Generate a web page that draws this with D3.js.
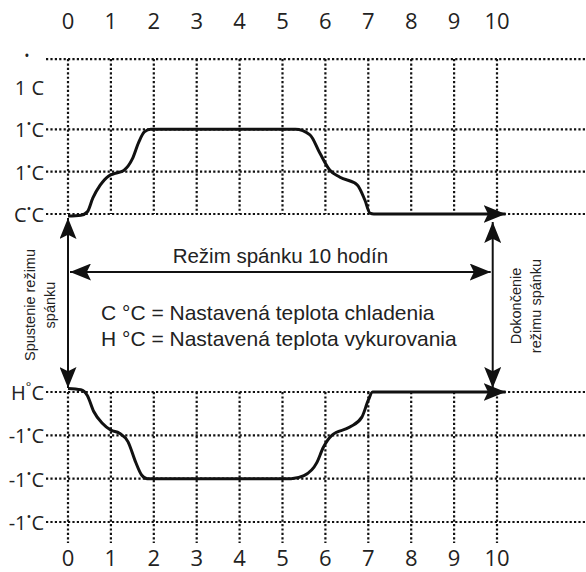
<!DOCTYPE html>
<html>
<head>
<meta charset="utf-8">
<script src="https://cdn.jsdelivr.net/npm/d3@7"></script>
<style>
  body { margin: 0; background: #fff; }
  svg { display: block; }
</style>
</head>
<body>
<div class="stage"></div>
<script>
// hours along the x axis
var hours = [0, 1, 2, 3, 4, 5, 6, 7, 8, 9, 10];

// left labels, upper block (cooling) and lower block (heating)
var coolLabels = ["C•C", "1•C", "1•C", "1 C", "•"];
var coolLevels = [0, 1, 2, 3, 3.66];
var coolGrid = [0, 1, 2, 3.66];
var heatLabels = ["H°C", "-1•C", "-1•C", "-1•C"];
var heatLevels = [0, -1, -2, -3];

// temperature curves (hour, level)
var coolCurve = [[0, -0.05], [0.3, -0.03], [0.45, 0.05], [0.58, 0.38], [0.75, 0.68], [0.95, 0.9],
  [1.1, 0.96], [1.3, 1.03], [1.5, 1.3], [1.65, 1.7], [1.78, 1.94], [1.93, 2], [2.2, 2], [5.3, 2],
  [5.64, 1.87], [5.87, 1.44], [6.1, 1.04], [6.34, 0.87], [6.74, 0.69], [6.92, 0.33], [7.04, 0.02],
  [7.13, 0], [9.9, 0]];
var heatCurve = [[0, 0.08], [0.3, 0.05], [0.45, -0.08], [0.6, -0.45], [0.8, -0.72], [1.0, -0.88],
  [1.2, -0.95], [1.4, -1.15], [1.57, -1.6], [1.72, -1.92], [1.85, -2], [2.2, -2], [5.2, -2],
  [5.5, -1.93], [5.8, -1.63], [5.95, -1.28], [6.15, -1.0], [6.57, -0.81], [6.85, -0.58],
  [7.0, -0.19], [7.1, 0], [9.9, 0]];
var arrowEnd = 10.2;

var sleepText = "Režim spánku 10 hodín";
var legendLines = ["C °C = Nastavená teplota chladenia", "H °C = Nastavená teplota vykurovania"];
var startText = ["Spustenie režimu", "spánku"];
var endText = ["Dokončenie", "režimu spánku"];

var width = 586, height = 572;
var svg = d3.select(".stage").append("svg")
  .attr("width", width)
  .attr("height", height);

var x = d3.scaleLinear().domain([0, 10]).range([68, 497]);
var yCool = d3.scaleLinear().domain([0, 3]).range([214, 87]);
var yHeat = d3.scaleLinear().domain([0, -3]).range([392, 522]);

var tickFont = "'Open Sans', sans-serif";
var textFont = "'Liberation Sans', Arial, sans-serif";

// arrow heads
var defs = svg.append("defs");
function marker(id, w, h) {
  defs.append("marker")
    .attr("id", id)
    .attr("viewBox", "0 0 " + w + " " + h)
    .attr("refX", w).attr("refY", h / 2)
    .attr("markerWidth", w).attr("markerHeight", h)
    .attr("markerUnits", "userSpaceOnUse")
    .attr("orient", "auto-start-reverse")
    .append("path")
    .attr("d", "M0,0L" + w + "," + (h / 2) + "L0," + h + "L" + (w * 0.2) + "," + (h / 2) + "Z")
    .attr("fill", "#111");
}
marker("head", 21, 17);
marker("headBig", 22, 18);

// grid
function dotted(sel) {
  return sel.attr("stroke", "#111").attr("stroke-width", 2.2).attr("stroke-dasharray", "2.2,2.2");
}
var grid = svg.append("g");
grid.selectAll(".hc").data(coolGrid).enter().append("line")
  .attr("x1", 46).attr("x2", width)
  .attr("y1", function(d) { return yCool(d); }).attr("y2", function(d) { return yCool(d); })
  .call(dotted);
grid.selectAll(".hh").data(heatLevels).enter().append("line")
  .attr("x1", 46).attr("x2", width)
  .attr("y1", function(d) { return yHeat(d); }).attr("y2", function(d) { return yHeat(d); })
  .call(dotted);
grid.selectAll(".vc").data(hours).enter().append("line")
  .attr("x1", function(d) { return x(d); }).attr("x2", function(d) { return x(d); })
  .attr("y1", yCool(3.66)).attr("y2", yCool(0))
  .call(dotted);
grid.selectAll(".vh").data(hours).enter().append("line")
  .attr("x1", function(d) { return x(d); }).attr("x2", function(d) { return x(d); })
  .attr("y1", yHeat(0)).attr("y2", 543)
  .call(dotted);

// hour labels top and bottom
[20, 557].forEach(function(ty) {
  svg.append("g").selectAll("text").data(hours).enter().append("text")
    .attr("x", function(d) { return x(d); })
    .attr("y", ty)
    .attr("text-anchor", "middle")
    .attr("dominant-baseline", "central")
    .attr("font-family", tickFont)
    .attr("font-size", 22)
    .attr("fill", "#222")
    .text(function(d) { return d; });
});

// level labels with the small raised degree dot
function levelLabels(labels, levels, y) {
  var t = svg.append("g").selectAll("text").data(labels).enter().append("text")
    .attr("x", 44)
    .attr("y", function(d, i) { return y(levels[i]); })
    .attr("text-anchor", "end")
    .attr("dominant-baseline", "central")
    .attr("font-family", tickFont)
    .attr("font-size", 20)
    .attr("fill", "#222");
  t.each(function(d) {
    var el = d3.select(this);
    if (d === "•") {
      el.attr("x", 27).attr("text-anchor", "middle").attr("font-size", 14).attr("dy", -4).text("•");
      return;
    }
    var m = d.match(/^(.*?)([•°])(.*)$/);
    if (!m) { el.text(d); return; }
    el.append("tspan").text(m[1]);
    el.append("tspan").attr("font-size", 13).attr("dy", -6).text(m[2]);
    el.append("tspan").attr("dy", 6).text(m[3]);
  });
}
levelLabels(coolLabels, coolLevels, yCool);
levelLabels(heatLabels, heatLevels, yHeat);

// curves
var line = d3.line().curve(d3.curveMonotoneX);
svg.append("path")
  .datum(coolCurve.map(function(d) { return [x(d[0]), yCool(d[1])]; }).concat([[x(arrowEnd), yCool(0)]]))
  .attr("d", line)
  .attr("fill", "none").attr("stroke", "#111").attr("stroke-width", 3)
  .attr("marker-end", "url(#headBig)");
svg.append("path")
  .datum(heatCurve.map(function(d) { return [x(d[0]), yHeat(d[1])]; }).concat([[x(arrowEnd), yHeat(0)]]))
  .attr("d", line)
  .attr("fill", "none").attr("stroke", "#111").attr("stroke-width", 3)
  .attr("marker-end", "url(#headBig)");

// double arrows
function doubleArrow(x1, y1, x2, y2) {
  svg.append("line")
    .attr("x1", x1).attr("y1", y1).attr("x2", x2).attr("y2", y2)
    .attr("stroke", "#111").attr("stroke-width", 2)
    .attr("marker-start", "url(#head)")
    .attr("marker-end", "url(#head)");
}
var midY = 272;
doubleArrow(x(0), 218, x(0), 388);
doubleArrow(x(0) + 2, midY, x(9.9) - 2, midY);
doubleArrow(x(9.9), 222, x(9.9), 388);

svg.append("text")
  .attr("x", (x(0) + x(9.9)) / 2).attr("y", 255)
  .attr("text-anchor", "middle").attr("dominant-baseline", "central")
  .attr("font-family", textFont).attr("font-size", 20.5).attr("fill", "#222")
  .text(sleepText);

svg.append("g").selectAll("text").data(legendLines).enter().append("text")
  .attr("x", 101)
  .attr("y", function(d, i) { return 312 + i * 26; })
  .attr("dominant-baseline", "central")
  .attr("font-family", textFont).attr("font-size", 21).attr("fill", "#222")
  .text(function(d) { return d; });

function sideText(lines, cx, cy) {
  svg.append("g").selectAll("text").data(lines).enter().append("text")
    .attr("transform", function(d, i) { return "translate(" + (cx + i * 20) + "," + cy + ") rotate(-90)"; })
    .attr("text-anchor", "middle")
    .attr("dominant-baseline", "central")
    .attr("font-family", textFont).attr("font-size", 14.5).attr("fill", "#222")
    .text(function(d) { return d; });
}
sideText(startText, 30, 305);
sideText(endText, 516, 306);
</script>
</body>
</html>
